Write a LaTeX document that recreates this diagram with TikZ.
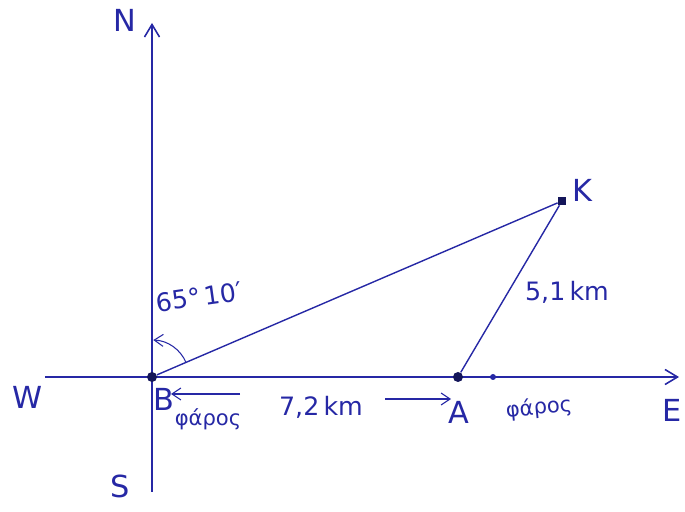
\documentclass[tikz,border=0pt]{standalone}
\usepackage{fontspec}
\setmainfont{DejaVu Sans}
\definecolor{inkBlue}{RGB}{38,40,165}
\definecolor{inkDark}{RGB}{20,22,90}
\usetikzlibrary{arrows.meta,positioning,calc}

\begin{document}
\begin{tikzpicture}[
    axis/.style={draw=inkBlue, line width=0.9pt, -{Straight Barb[length=2.5mm,width=3mm]}},
    side/.style={draw=inkBlue, line width=0.8pt},
    spot/.style={circle, fill=inkDark, inner sep=0pt, minimum size=2mm},
    lbl/.style={text=inkBlue, font=\LARGE},
    meas/.style={text=inkBlue, font=\Large},
    sub/.style={text=inkBlue, font=\large},
    dimarrow/.style={draw=inkBlue, line width=0.6pt, -{Straight Barb[length=1.8mm,width=2.4mm]}}
  ]
  \useasboundingbox (0,0) rectangle (13.7,10.24);

  % axes
  \coordinate (west) at (0.9,2.70);
  \coordinate (east) at (13.58,2.70);
  \coordinate (south) at (3.04,0.40);
  \coordinate (north) at (3.04,9.78);
  \draw[axis] (west) -- (east);
  \draw[axis] (south) -- (north);
  \node[lbl] (n) at (2.5,9.84) {N};
  \node[lbl] (w) at (0.56,2.3) {W};
  \node[lbl] (s) at (2.4,0.52) {S};
  \node[lbl] (e) at (13.44,2.04) {E};

  % points
  \node[spot] (B) at (3.04,2.70) {};
  \node[spot] (A) at (9.16,2.70) {};
  \node[rectangle, fill=inkDark, inner sep=0pt, minimum size=1.6mm] (K) at (11.24,6.22) {};
  \node[circle, fill=inkBlue, inner sep=0pt, minimum size=1.2mm] (m) at (9.86,2.70) {};

  % triangle
  \draw[side] (B) -- (K);
  \draw[side] (A) -- (K);
  \node[lbl] (k) at (11.64,6.44) {K};
  \node[meas] (d51) at (11.34,4.40) {5,1\,km};

  % bearing angle
  \draw[dimarrow] ([shift={(23:0.74)}]B.center) arc (23:88:0.74);
  \node[meas, rotate=8] (ang) at (3.98,4.30) {65°\,10′};

  % lighthouses
  \node[lbl] (b) at (3.28,2.26) {B};
  \node[sub] (fb) at (4.16,1.86) {φάρος};
  \node[lbl] (a) at (9.18,2.0) {A};
  \node[sub, rotate=6] (fa) at (10.78,2.08) {φάρος};

  % distance
  \node[meas] (d72) at (6.42,2.10) {7,2\,km};
  \coordinate (l1) at (4.8,2.36);
  \coordinate (l2) at (3.42,2.36);
  \coordinate (r1) at (7.7,2.26);
  \coordinate (r2) at (9.02,2.26);
  \draw[dimarrow] (l1) -- (l2);
  \draw[dimarrow] (r1) -- (r2);
\end{tikzpicture}
\end{document}
